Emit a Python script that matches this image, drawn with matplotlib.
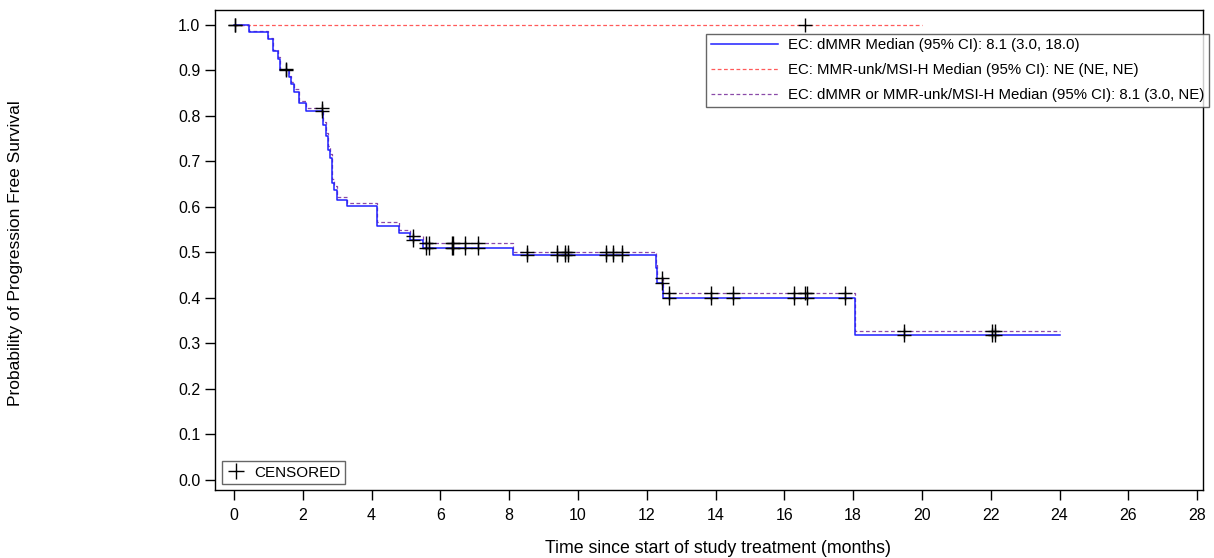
import matplotlib
matplotlib.use("Agg")
import matplotlib.pyplot as plt
from matplotlib.lines import Line2D
from matplotlib.legend import Legend
import numpy as np

plt.rcParams['font.family'] = ['Liberation Sans', 'DejaVu Sans']

# dMMR KM curve (time of drop, survival after drop)
dmmr_t = [0, 0.43, 0.99, 1.13, 1.28, 1.35, 1.59, 1.67, 1.74, 1.90, 2.09, 2.58, 2.67, 2.74,
          2.79, 2.86, 2.92, 2.99, 3.28, 4.17, 4.80, 5.13, 5.50, 8.10, 12.27, 12.30, 12.48, 18.06, 24.0]
dmmr_s = [1.0, 0.985, 0.970, 0.942, 0.926, 0.900, 0.885, 0.870, 0.853, 0.828, 0.812, 0.780, 0.755, 0.725,
          0.707, 0.652, 0.637, 0.615, 0.602, 0.558, 0.542, 0.527, 0.510, 0.495, 0.465, 0.432, 0.399, 0.318, 0.318]

# dMMR or MMR-unk/MSI-H combined curve
comb_t = dmmr_t
comb_s = [1.0, 0.986, 0.972, 0.945, 0.930, 0.904, 0.889, 0.875, 0.859, 0.834, 0.818, 0.787, 0.762, 0.733,
          0.716, 0.661, 0.646, 0.622, 0.609, 0.566, 0.550, 0.536, 0.520, 0.501, 0.473, 0.443, 0.412, 0.328, 0.328]

# MMR-unk/MSI-H curve
unk_t = [0, 20.0]
unk_s = [1.0, 1.0]

dmmr_cens = [1.51, 2.55, 5.21, 5.58, 5.68, 6.33, 6.38, 6.72, 7.10, 8.53, 9.40, 9.63, 9.71, 10.83,
             11.03, 11.27, 12.43, 12.65, 13.86, 14.50, 16.28, 16.67, 17.77, 19.48, 22.05, 22.12]
unk_cens = [0.03, 16.6]
comb_cens = dmmr_cens + unk_cens

labels = ["EC: dMMR Median (95% CI): 8.1 (3.0, 18.0)",
          "EC: MMR-unk/MSI-H Median (95% CI): NE (NE, NE)",
          "EC: dMMR or MMR-unk/MSI-H Median (95% CI): 8.1 (3.0, NE)"]


def step_val(t, s, x):
    i = np.searchsorted(t, x, side='right') - 1
    return np.array(s)[i]


fig = plt.figure(figsize=(12.14, 5.58), dpi=100)
ax = fig.add_axes([0.1771, 0.1219, 0.8138, 0.8602])

purple = '#8a4aa8'
red = '#ff5a5a'
l3, = ax.step(comb_t, comb_s, where='post', color=purple, lw=0.9, ls=(0, (3, 2)), zorder=2)
l2, = ax.step(unk_t, unk_s, where='post', color=red, lw=0.9, ls=(0, (3, 2)), zorder=2)
l1, = ax.step(dmmr_t, dmmr_s, where='post', color='#2020ff', lw=1.1, zorder=3)

ms = 9.5
ax.plot(dmmr_cens, step_val(dmmr_t, dmmr_s, dmmr_cens), '+', color='black', ms=ms, mew=1, zorder=4)
ax.plot(comb_cens, step_val(comb_t, comb_s, comb_cens), '+', color='black', ms=ms, mew=1, zorder=4)
ax.plot(unk_cens, step_val(unk_t, unk_s, unk_cens), '+', color='black', ms=ms, mew=1, zorder=4)

ax.set_xlim(-0.55, 28.17)
ax.set_ylim(-0.022, 1.033)
ax.set_xticks(np.arange(0, 29, 2))
ax.set_yticks(np.arange(0, 1.01, 0.1))
ax.set_yticklabels([f"{v:.1f}" for v in np.arange(0, 1.01, 0.1)])
ax.tick_params(labelsize=11.5, length=7, width=1, direction='out')
ax.tick_params(axis='x', pad=6)
for sp in ax.spines.values():
    sp.set_linewidth(1)

ax.set_xlabel("Time since start of study treatment (months)", fontsize=12.8, labelpad=13)
ax.xaxis.set_label_coords(0.509, -0.105)
fig.text(0.013, 0.547, "Probability of Progression Free Survival", rotation=90,
         fontsize=12.5, va='center', ha='center')

leg = ax.legend([l1, l2, l3], labels, loc='upper right', bbox_to_anchor=(1.006, 0.95),
                fontsize=10.8, frameon=True, fancybox=False, borderpad=0.3,
                handlelength=4.5, handletextpad=0.65, labelspacing=0.72, borderaxespad=0)
leg.get_frame().set_edgecolor('#404040')
leg.get_frame().set_linewidth(1)

cens_handle = Line2D([], [], marker='+', color='black', ls='none', ms=11, mew=1)
leg2 = Legend(ax, [cens_handle], ["CENSORED"], loc='lower left', bbox_to_anchor=(0.007, 0.012),
              fontsize=11, frameon=True, fancybox=False, borderpad=0.3, handlelength=1.2,
              handletextpad=0.6, borderaxespad=0)
leg2.get_frame().set_edgecolor('#404040')
leg2.get_frame().set_linewidth(1)
ax.add_artist(leg2)

fig.savefig("out.png", dpi=100)
